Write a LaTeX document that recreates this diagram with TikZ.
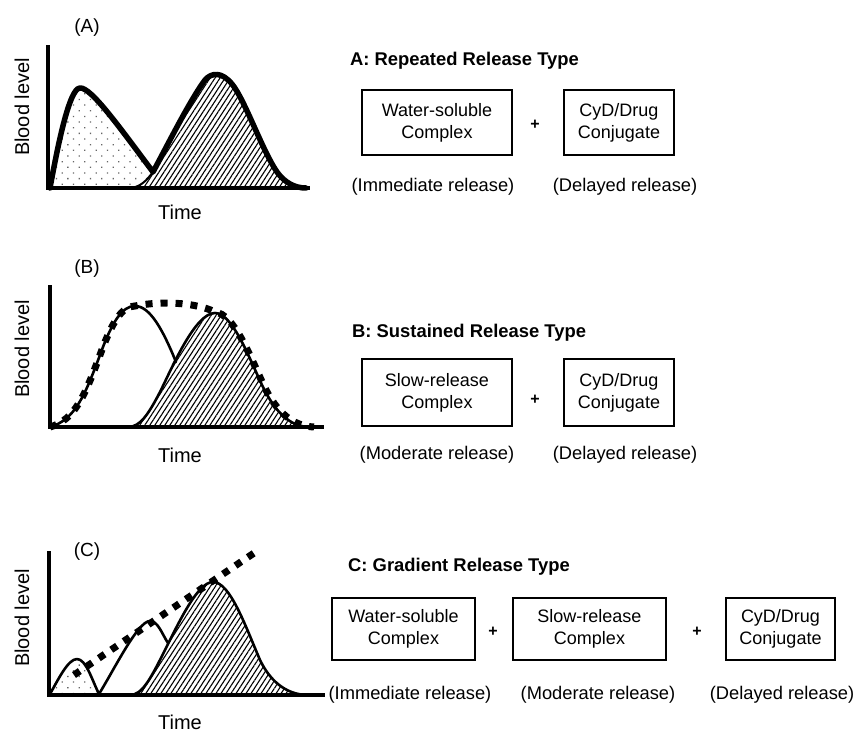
\documentclass[tikz,border=0pt]{standalone}
\usepackage{fontspec}
\setmainfont{Liberation Sans}
\usetikzlibrary{patterns.meta}

\tikzset{
  axisline/.style={line width=4pt, line cap=rect, line join=miter},
  curve/.style={line width=2.6pt, line join=round, line cap=round},
  envelope/.style={line width=5.5pt, line join=round, line cap=round},
  sumdots/.style={line width=7pt, dash pattern=on 7pt off 8pt},
  hatched/.style={preaction={fill=white},
    pattern={Lines[angle=57,distance=4.2pt,line width=1.1pt]}},
  dotted area/.style={pattern={Dots[distance=8pt,angle=45,radius=0.9pt]},
    pattern color=black!60},
  axislabel/.style={inner sep=0pt, font=\fontsize{20}{24}\selectfont},
  panellabel/.style={inner sep=0pt, font=\fontsize{19}{23}\selectfont},
  headline/.style={inner sep=0pt, anchor=west, font=\fontsize{18.4}{22}\selectfont\bfseries},
  comp/.style={draw, line width=1.8pt, align=center, inner sep=0pt,
    font=\fontsize{18}{22}\selectfont},
  note/.style={inner sep=0pt, font=\fontsize{18.3}{22}\selectfont},
  plus/.style={inner sep=0pt, font=\fontsize{16}{18}\selectfont\bfseries},
}

\begin{document}
\begin{tikzpicture}[x=1pt, y=-1pt]
\useasboundingbox (0,0) rectangle (857,733);

% ---------------- (A) repeated release ----------------
\fill[dotted area] (50,188) .. controls (57,150) and (69,88) .. (80,88)
  .. controls (91,87) and (120,128) .. (153,172)
  .. controls (158,180) and (162,186) .. (168,188) -- cycle;
\fill[hatched] (128,188) .. controls (140,188) and (146,181) .. (153,172)
  .. controls (165,150) and (190,100) .. (205,80)
  .. controls (212,72) and (222,72) .. (232,84)
  .. controls (245,100) and (262,150) .. (277,172)
  .. controls (285,183) and (295,188) .. (306,188) -- cycle;
\draw[curve, line width=2pt] (128,188) .. controls (140,188) and (146,181) .. (153,172);
\draw[envelope] (50,188) .. controls (57,150) and (69,88) .. (80,88)
  .. controls (91,87) and (120,128) .. (153,172)
  .. controls (165,150) and (190,100) .. (205,80)
  .. controls (212,72) and (222,72) .. (232,84)
  .. controls (245,100) and (262,150) .. (277,172)
  .. controls (285,183) and (295,188) .. (306,188);
\draw[axisline] (48,47) -- (48,188) -- (308,188);

\node[panellabel] (labA) at (87,28) {(A)};
\node[axislabel, rotate=90] (yA) at (22,107) {Blood level};
\node[axislabel] (xA) at (180,212) {Time};

\node[headline] (titleA) at (350,61) {A: Repeated Release Type};
\node[comp, minimum width=150pt, minimum height=65pt] (a1) at (437,122.5) {Water-soluble\\Complex};
\node[comp, minimum width=110pt, minimum height=65pt] (a2) at (619,122.5) {CyD/Drug\\Conjugate};
\node[plus] (pa) at (535,125) {+};
\node[note] (ra1) at (433,187) {(Immediate release)};
\node[note] (ra2) at (625,187) {(Delayed release)};

% ---------------- (B) sustained release ----------------
\fill[hatched] (128,427) .. controls (140,427) and (148,415) .. (160,392)
  .. controls (172,368) and (195,313) .. (215,313)
  .. controls (232,313) and (248,355) .. (262,385)
  .. controls (275,412) and (290,427) .. (310,427) -- cycle;
\draw[sumdots] (50,427) .. controls (75,420) and (85,395) .. (100,355)
  .. controls (112,322) and (122,306) .. (135,306)
  .. controls (160,301) and (195,302) .. (215,312)
  .. controls (234,314) and (250,356) .. (264,386)
  .. controls (277,413) and (293,426) .. (314,427);
\draw[curve] (50,427) .. controls (75,420) and (85,395) .. (100,355)
  .. controls (112,322) and (122,306) .. (135,306)
  .. controls (150,306) and (163,330) .. (176,362);
\draw[curve] (128,427) .. controls (140,427) and (148,415) .. (160,392)
  .. controls (172,368) and (195,313) .. (215,313)
  .. controls (232,313) and (248,355) .. (262,385)
  .. controls (275,412) and (290,427) .. (310,427);
\draw[axisline] (50,287) -- (50,427) -- (322,427);

\node[panellabel] (labB) at (87,269) {(B)};
\node[axislabel, rotate=90] (yB) at (22,349) {Blood level};
\node[axislabel] (xB) at (180,455) {Time};

\node[headline] (titleB) at (352,333) {B: Sustained Release Type};
\node[comp, minimum width=150pt, minimum height=67pt] (b1) at (437,392.5) {Slow-release\\Complex};
\node[comp, minimum width=110pt, minimum height=67pt] (b2) at (619,392.5) {CyD/Drug\\Conjugate};
\node[plus] (pb) at (535,400) {+};
\node[note] (rb1) at (437,455) {(Moderate release)};
\node[note] (rb2) at (625,455) {(Delayed release)};

% ---------------- (C) gradient release ----------------
\fill[dotted area] (50,694) .. controls (58,680) and (68,659) .. (77,659)
  .. controls (86,659) and (92,680) .. (99,694) -- cycle;
\draw[curve] (50,694) .. controls (58,680) and (68,659) .. (77,659)
  .. controls (86,659) and (92,680) .. (99,694);
\draw[curve] (99,694) .. controls (115,668) and (138,621) .. (150,621)
  .. controls (158,621) and (162,634) .. (168,643)
  .. controls (172,650) and (176,656) .. (180,662);
\fill[hatched] (130,695) .. controls (142,695) and (150,680) .. (165,650)
  .. controls (180,620) and (198,582) .. (213,582)
  .. controls (230,582) and (245,625) .. (260,660)
  .. controls (272,685) and (290,695) .. (308,695) -- cycle;
\draw[curve] (130,695) .. controls (142,695) and (150,680) .. (165,650)
  .. controls (180,620) and (198,582) .. (213,582)
  .. controls (230,582) and (245,625) .. (260,660)
  .. controls (272,685) and (290,695) .. (308,695);
\coordinate (trendstart) at (74,675);
\coordinate (trendend) at (257,551);
\draw[sumdots] (trendstart) -- (trendend);
\draw[axisline] (49,553) -- (49,695) -- (323,695);

\node[panellabel] (labC) at (87,552) {(C)};
\node[axislabel, rotate=90] (yC) at (22,618) {Blood level};
\node[axislabel] (xC) at (180,722) {Time};

\node[headline] (titleC) at (348,567) {C: Gradient Release Type};
\node[comp, minimum width=143pt, minimum height=62pt] (c1) at (403.5,629) {Water-soluble\\Complex};
\node[comp, minimum width=153pt, minimum height=62pt] (c2) at (589.5,629) {Slow-release\\Complex};
\node[comp, minimum width=109pt, minimum height=62pt] (c3) at (780.5,629) {CyD/Drug\\Conjugate};
\node[plus] (pc1) at (493,632) {+};
\node[plus] (pc2) at (697,632) {+};
\node[note] (rc1) at (410,695) {(Immediate release)};
\node[note] (rc2) at (598,695) {(Moderate release)};
\node[note] (rc3) at (782,695) {(Delayed release)};
\end{tikzpicture}
\end{document}
